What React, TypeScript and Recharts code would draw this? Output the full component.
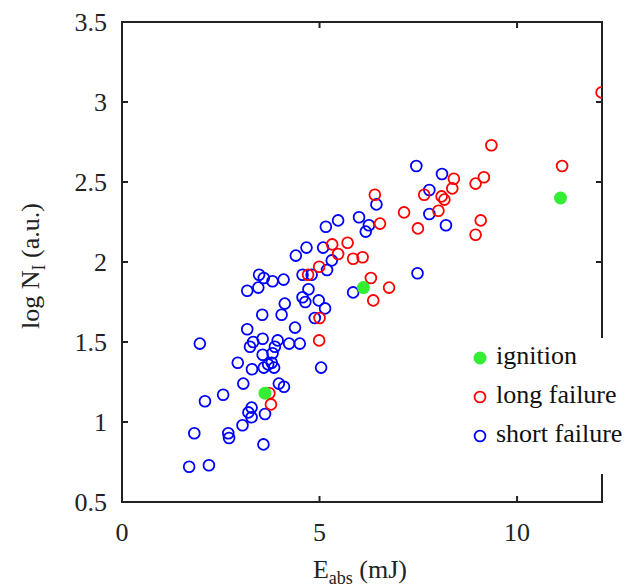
import React from 'react';
import { ScatterChart, Scatter, XAxis, YAxis, ReferenceArea, Legend } from 'recharts';

// ---------- data ----------
const xTicks = [0, 5, 10];
const yTicks = [0.5, 1, 1.5, 2, 2.5, 3, 3.5];
const xDomain: [number, number] = [0, 12.15];
const yDomain: [number, number] = [0.5, 3.5];
const seriesNames = ['ignition', 'long failure', 'short failure'];

const ignitionE = [3.62, 6.11, 11.1];
const ignitionN = [1.18, 1.84, 2.4];

const longE = [12.14, 9.35, 11.14, 8.4, 9.16, 8.95, 8.36, 6.4, 7.65, 8.09, 8.16, 8.01, 7.14, 6.53, 7.49, 9.08,
  8.95, 5.32, 5.71, 5.47, 5.85, 6.09, 4.99, 4.71, 6.3, 6.76, 6.36, 5.0, 4.99, 3.73, 3.77];
const longN = [3.06, 2.73, 2.6, 2.52, 2.53, 2.49, 2.46, 2.42, 2.42, 2.41, 2.39, 2.32, 2.31, 2.24, 2.21, 2.26,
  2.17, 2.11, 2.12, 2.05, 2.02, 2.03, 1.97, 1.92, 1.9, 1.84, 1.76, 1.65, 1.51, 1.18, 1.11];

const shortE = [4.4, 4.67, 5.09, 5.31, 5.19, 4.57, 4.8, 3.47, 3.59, 3.81, 4.09, 3.17, 3.45, 4.72, 4.57, 4.64,
  4.98, 5.14, 4.12, 3.55, 4.04, 4.88, 4.38, 3.17, 1.97, 3.56, 3.32, 3.24, 3.94, 3.87, 4.23, 4.5,
  3.81, 3.56, 2.93, 3.79, 3.7, 3.59, 3.85, 3.29, 5.04, 3.07, 3.97, 4.1, 2.56, 2.1, 3.28, 3.2,
  3.28, 3.62, 3.05, 1.83, 2.69, 2.71, 3.58, 1.7, 2.2, 5.16, 5.47, 6.0, 6.25, 6.17, 6.44, 7.45,
  8.1, 7.78, 7.78, 8.2, 7.48, 5.85];
const shortN = [2.04, 2.09, 2.09, 2.01, 1.95, 1.92, 1.92, 1.92, 1.9, 1.88, 1.89, 1.82, 1.84, 1.83, 1.78, 1.75,
  1.76, 1.71, 1.74, 1.67, 1.67, 1.65, 1.59, 1.58, 1.49, 1.52, 1.5, 1.47, 1.51, 1.47, 1.49, 1.49,
  1.43, 1.42, 1.37, 1.37, 1.36, 1.34, 1.34, 1.33, 1.34, 1.24, 1.24, 1.22, 1.17, 1.13, 1.09, 1.06,
  1.03, 1.05, 0.98, 0.93, 0.93, 0.9, 0.86, 0.72, 0.73, 2.22, 2.26, 2.28, 2.23, 2.19, 2.36, 2.6,
  2.55, 2.45, 2.3, 2.23, 1.93, 1.81];

const toPoints = (xs: number[], ys: number[]) => xs.map((x, i) => ({ x, y: ys[i] }));
const ignitionData = toPoints(ignitionE, ignitionN);
const longData = toPoints(longE, longN);
const shortData = toPoints(shortE, shortN);

// ---------- style / layout ----------
const W = 628;
const H = 588;
const PLOT_L = 122;
const PLOT_R = 602;
const PLOT_T = 22;
const PLOT_B = 502;
const FONT = 'Liberation Serif, Times New Roman, Times, serif';
const FS = 26;
const INK = '#222222';
const GREEN = '#33ee33';
const RED = '#ff0000';
const BLUE = '#0000ff';
const TICK_LEN = 6;

const colors = [GREEN, RED, BLUE];
const filled = [true, false, false];

const XTick = (props: any) => {
  const { x, payload } = props;
  return (
    <g>
      <text x={x} y={PLOT_B + 39} textAnchor="middle" fill={INK} style={{ fontFamily: FONT, fontSize: FS }}>
        {String(payload.value)}
      </text>
      <line x1={x} x2={x} y1={PLOT_B} y2={PLOT_B - TICK_LEN} stroke={INK} strokeWidth={2} />
      <line x1={x} x2={x} y1={PLOT_T} y2={PLOT_T + TICK_LEN} stroke={INK} strokeWidth={2} />
    </g>
  );
};

const YTick = (props: any) => {
  const { y, payload } = props;
  return (
    <g>
      <text x={PLOT_L - 15} y={y + 9} textAnchor="end" fill={INK} style={{ fontFamily: FONT, fontSize: FS }}>
        {String(payload.value)}
      </text>
      <line x1={PLOT_L} x2={PLOT_L + TICK_LEN} y1={y} y2={y} stroke={INK} strokeWidth={2} />
      <line x1={PLOT_R} x2={PLOT_R - TICK_LEN} y1={y} y2={y} stroke={INK} strokeWidth={2} />
    </g>
  );
};

const makeShape = (color: string, fill: boolean) => (p: any) =>
  fill ? (
    <circle cx={p.cx} cy={p.cy} r={6.5} fill={color} stroke="none" />
  ) : (
    <circle cx={p.cx} cy={p.cy} r={5.4} fill="none" stroke={color} strokeWidth={1.8} />
  );

const XLabel = () => (
  <text x={360} y={578} textAnchor="middle" fill={INK} style={{ fontFamily: FONT, fontSize: FS }}>
    <tspan>E</tspan>
    <tspan style={{ fontSize: 18 }} dy={6}>abs</tspan>
    <tspan dy={-6}> (mJ)</tspan>
  </text>
);

const YLabel = () => (
  <text
    x={0}
    y={0}
    transform={`translate(39, 266) rotate(-90)`}
    textAnchor="middle"
    fill={INK}
    style={{ fontFamily: FONT, fontSize: FS }}
  >
    <tspan>log N</tspan>
    <tspan style={{ fontSize: 18 }} dy={6}>I</tspan>
    <tspan dy={-6}> (a.u.)</tspan>
  </text>
);

const LegendBox = () => (
  <div
    style={{
      background: '#ffffff',
      width: 162,
      height: 136,
      fontFamily: FONT,
      fontSize: FS,
      color: '#111',
      boxSizing: 'border-box',
    }}
  >
    {seriesNames.map((name, i) => (
      <div key={name} style={{ display: 'flex', alignItems: 'center', height: 39, fontFamily: FONT }}>
        <svg width={30} height={20} style={{ display: 'block' }}>
          {filled[i] ? (
            <circle cx={14} cy={10} r={6.5} fill={colors[i]} />
          ) : (
            <circle cx={14} cy={10} r={5.4} fill="none" stroke={colors[i]} strokeWidth={1.8} />
          )}
        </svg>
        <span style={{ lineHeight: '26px', position: 'relative', top: -2, whiteSpace: 'nowrap', fontFamily: FONT }}>
          {name}
        </span>
      </div>
    ))}
  </div>
);

export default function App() {
  return (
    <div style={{ width: W, height: H, position: 'relative', background: '#fff', fontFamily: FONT }}>
      <style>{'body{margin:0;}'}</style>
      <ScatterChart
        width={W}
        height={H}
        margin={{ top: PLOT_T, right: W - PLOT_R, bottom: 0, left: 0 }}
        style={{ fontFamily: FONT }}
      >
        <XAxis
          type="number"
          dataKey="x"
          domain={xDomain}
          ticks={xTicks}
          interval={0}
          allowDataOverflow
          axisLine={false}
          tickLine={false}
          tickSize={0}
          tickMargin={0}
          height={H - PLOT_B}
          tick={<XTick />}
          label={{ content: () => <XLabel /> }}
        />
        <YAxis
          type="number"
          dataKey="y"
          domain={yDomain}
          ticks={yTicks}
          interval={0}
          allowDataOverflow
          axisLine={false}
          tickLine={false}
          tickSize={0}
          tickMargin={0}
          width={PLOT_L}
          tick={<YTick />}
          label={{ content: () => <YLabel /> }}
        />
        <ReferenceArea
          x1={xDomain[0]}
          x2={xDomain[1]}
          y1={yDomain[0]}
          y2={yDomain[1]}
          fill="none"
          fillOpacity={0}
          stroke={INK}
          strokeWidth={2}
          ifOverflow="visible"
        />
        <Scatter name={seriesNames[2]} data={shortData} isAnimationActive={false} shape={makeShape(BLUE, false)} />
        <Scatter name={seriesNames[1]} data={longData} isAnimationActive={false} shape={makeShape(RED, false)} />
        <Scatter name={seriesNames[0]} data={ignitionData} isAnimationActive={false} shape={makeShape(GREEN, true)} />
        <Legend
          layout="vertical"
          align="center"
          verticalAlign="middle"
          content={() => <LegendBox />}
          wrapperStyle={{ position: 'absolute', left: 466, top: 338, width: 162, height: 136, margin: 0, padding: 0 }}
        />
      </ScatterChart>
    </div>
  );
}
